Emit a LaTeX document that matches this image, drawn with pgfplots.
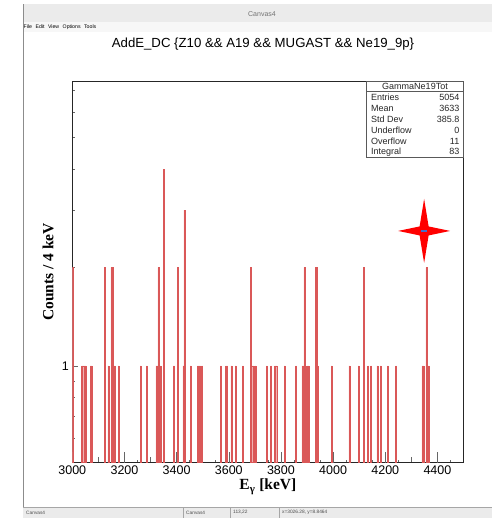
\documentclass[border=0pt]{standalone}
\usepackage{fontspec}
\setmainfont{Liberation Sans}
\newfontfamily\tnr{Liberation Serif}
\usepackage{pgfplots}
\usepackage{pgfplotstable}
\pgfplotsset{compat=1.18}

\definecolor{rootred}{RGB}{218,88,88}
\definecolor{rootpink}{RGB}{240,178,178}
\definecolor{starblue}{RGB}{70,110,200}

% 4-point red star (ROOT marker drawn on the canvas)
\pgfdeclareplotmark{rstar}{%
  \pgfsetfillcolor{red}%
  \pgfpathmoveto{\pgfpoint{26pt}{0pt}}%
  \pgfpathlineto{\pgfpoint{4.5pt}{4.5pt}}%
  \pgfpathlineto{\pgfpoint{0pt}{32pt}}%
  \pgfpathlineto{\pgfpoint{-4.5pt}{4.5pt}}%
  \pgfpathlineto{\pgfpoint{-26pt}{0pt}}%
  \pgfpathlineto{\pgfpoint{-4.5pt}{-4.5pt}}%
  \pgfpathlineto{\pgfpoint{0pt}{-32pt}}%
  \pgfpathlineto{\pgfpoint{4.5pt}{-4.5pt}}%
  \pgfpathclose
  \pgfusepathqfill
  \pgfsetfillcolor{starblue}%
  \pgfpathrectangle{\pgfpoint{-3pt}{-0.8pt}}{\pgfpoint{6pt}{1.6pt}}%
  \pgfusepathqfill
}

% non-empty 4 keV bins (bin centre, counts)
\pgfplotstableread{
E N
3002 2
3038 1
3042 1
3046 1
3050 1
3070 1
3074 1
3126 2
3138 1
3150 2
3154 2
3162 1
3178 1
3262 1
3286 1
3322 1
3326 1
3330 2
3334 1
3338 1
3350 4
3390 1
3406 2
3426 1
3430 3
3454 1
3482 1
3486 1
3490 1
3498 1
3570 1
3590 1
3594 1
3610 1
3626 1
3654 1
3686 2
3690 1
3694 1
3702 1
3746 1
3762 1
3778 1
3782 1
3814 1
3858 1
3882 1
3886 1
3890 2
3894 1
3902 1
3906 1
3934 2
3938 2
3942 1
3994 1
4062 1
4098 1
4118 2
4134 1
4146 1
4170 1
4182 1
4210 1
4242 1
4342 1
4346 1
4358 2
4366 1
}\hdata

\begin{document}
\begin{tikzpicture}[x=1pt,y=1pt]
% canvas window
\fill[white] (0,0) rectangle (492,522);
\fill[black!8] (23,500) rectangle (492,518);
\draw[black!25] (23,500) -- (492,500);
\fill[black!3] (23,490) rectangle (492,500);
\node[font=\fontsize{7}{8}\selectfont, text=black!55] at (262,508) {Canvas4};
\node[font=\fontsize{5.2}{6}\selectfont, anchor=west, inner sep=0pt] at (23.5,495)
  {File\hspace{3.5pt}Edit\hspace{3.5pt}View\hspace{3.5pt}Options\hspace{3.5pt}Tools};
\draw[black!45] (23,4) -- (23,518);
\fill[black!8] (23,4) rectangle (492,15);
\draw[black!35] (23,15) -- (492,15);
\foreach \xs in {183,230,279} \draw[black!35] (\xs,4) -- (\xs,15);
\begin{scope}[font=\fontsize{4.8}{5}\selectfont, text=black!70, anchor=west, inner sep=0pt]
\node at (26,9.5) {Canvas4};
\node at (186,9.5) {Canvas4};
\node at (233,9.5) {113,22};
\node at (282,9.5) {x=3026.28, y=8.8464};
\end{scope}

\begin{axis}[
  at={(72.3pt,59.5pt)}, anchor=south west,
  scale only axis, width=391.2pt, height=381pt,
  xmin=3000, xmax=4500,
  ymode=log, ymin=0.506, ymax=7.43,
  log origin y=infty,
  tick pos=left,
  axis line style={black!85, line width=0.6pt},
  tick style={black!60, line width=0.5pt},
  major tick length=6pt, minor tick length=3pt,
  xtick={3000,3100,...,4500},
  xticklabels={3000,,3200,,3400,,3600,,3800,,4000,,4200,,4400,},
  minor xtick={3050,3150,...,4450},
  extra x ticks={3000,3200,...,4400},
  extra x tick labels={},
  extra x tick style={major tick length=11pt},
  ytick={1}, yticklabels={1},
  minor ytick={0.6,0.7,0.8,0.9,2,3,4,5,6,7},
  tick label style={font=\fontsize{12.5}{14}\selectfont},
  title={AddE\_DC \{Z10 \&\& A19 \&\& MUGAST \&\& Ne19\_9p\}},
  title style={font=\fontsize{13.2}{15}\selectfont, at={(axis description cs:0.4875,1.083)}, anchor=center},
  xlabel={\tnr\bfseries E\textsubscript{γ} [keV]},
  xlabel style={font=\fontsize{15.5}{17}\selectfont, at={(axis description cs:0.5,-0.072)}, anchor=base},
  ylabel={\tnr\bfseries Counts / 4 keV},
  ylabel style={font=\fontsize{15.5}{17}\selectfont, at={(axis description cs:-0.062,0.5)}, anchor=center},
]
\addplot[ybar, bar width=4, bar shift=0pt, draw=rootred, fill=rootpink, line width=0.5pt]
  table[x=E, y=N]{\hdata};
\addplot[only marks, mark=rstar] coordinates {(4349,2.59)};
\end{axis}

% statistics box
\draw[black!65, fill=white, line width=0.5pt] (366,364.3) rectangle (463.5,440.5);
\draw[black!65, line width=0.5pt] (366,430.3) -- (463.5,430.3);
\begin{scope}[font=\fontsize{9}{10}\selectfont, text=black!85, inner sep=0pt]
\node[anchor=base] at (415,432.5) {GammaNe19Tot};
\node[anchor=base west] at (371,421.3) {Entries};
\node[anchor=base east] at (459.5,421.3) {5054};
\node[anchor=base west] at (371,410) {Mean};
\node[anchor=base east] at (459.5,410) {3633};
\node[anchor=base west] at (371,399) {Std Dev};
\node[anchor=base east] at (459.5,399) {385.8};
\node[anchor=base west] at (371,388) {Underflow};
\node[anchor=base east] at (459.5,388) {0};
\node[anchor=base west] at (371,377.3) {Overflow};
\node[anchor=base east] at (459.5,377.3) {11};
\node[anchor=base west] at (371,367.3) {Integral};
\node[anchor=base east] at (459.5,367.3) {83};
\end{scope}
\end{tikzpicture}
\end{document}
